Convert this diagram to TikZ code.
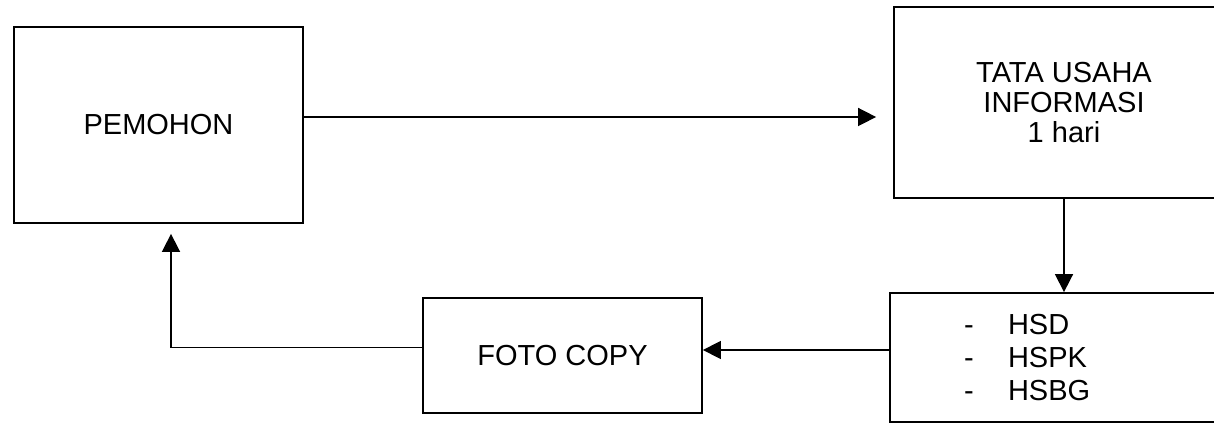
\documentclass[tikz,border=0pt]{standalone}
\usepackage{fontspec}
\setmainfont{Liberation Sans}
\usetikzlibrary{arrows.meta}

\begin{document}
\begin{tikzpicture}[
  x=0.5pt, y=-0.5pt,
  every node/.style={draw, line width=0.9pt, inner sep=0pt, align=center, font=\fontsize{14.5pt}{15pt}\selectfont},
  arrow/.style={-{Triangle[length=9pt,width=9pt]}, line width=0.8pt},
  ]
  \useasboundingbox (0,0) rectangle (1214,426);

  % Applicant
  \node[minimum width=144.5pt, minimum height=98pt] (pemohon) at (158.5,125) {PEMOHON};

  % Administration (runs past the right edge)
  \node[minimum width=170pt, minimum height=95.5pt] (tatausaha) at (1064,102.5) {TATA USAHA\\INFORMASI\\1 hari};

  % Sections
  \node[minimum height=64.5pt, inner xsep=37pt, text width=105pt, align=left] (hsd) at (1069,357.5)
    {\makebox[22pt][l]{-}HSD\\[1.5pt]\makebox[22pt][l]{-}HSPK\\[1.5pt]\makebox[22pt][l]{-}HSBG};

  % Photocopy
  \node[minimum width=139.5pt, minimum height=57.5pt] (fotocopy) at (562.5,355.5) {FOTO COPY};

  % Arrows
  \coordinate (reqout) at ([yshift=4pt]pemohon.east);
  \draw[arrow, shorten >=8.5pt] (reqout) -- (reqout -| tatausaha.west);
  \draw[arrow] (tatausaha.south) -- (tatausaha.south |- hsd.north);

  \coordinate (hsdout) at ([yshift=3.75pt]hsd.west);
  \draw[arrow] (hsdout) -- (hsdout -| fotocopy.east);

  \coordinate (copyout) at ([yshift=4pt]fotocopy.west);
  \draw[arrow, shorten >=5pt] (copyout) -| ([xshift=6.25pt]pemohon.south);

\end{tikzpicture}
\end{document}
